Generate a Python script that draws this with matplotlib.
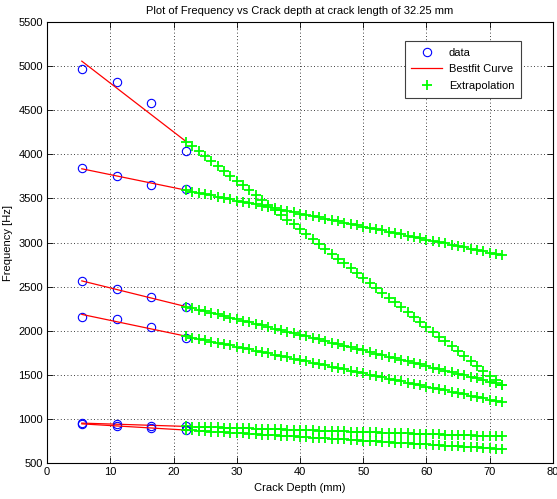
import numpy as np
import matplotlib
matplotlib.use("Agg")
import matplotlib.pyplot as plt

plt.rcParams["font.family"] = ["Liberation Sans Narrow", "Liberation Sans", "DejaVu Sans"]

# measured crack depths (mm)
depth = [5.5, 11.0, 16.5, 22.0]

mode1 = [4969, 4817, 4580, 4035]
mode2 = [3841, 3756, 3657, 3604]
mode3 = [2561, 2470, 2378, 2267]
mode4 = [2160, 2130, 2040, 1915]
mode5 = [950, 945, 925, 915]
mode6 = [940, 925, 900, 870]
modes = [mode1, mode2, mode3, mode4, mode5, mode6]

# extrapolation depths (mm), 1 mm steps out to 72 mm
depth_ext = list(range(22, 73))

fig = plt.figure(figsize=(5.57, 4.99), dpi=100)
ax = fig.add_axes([0.0844, 0.0721, 0.9084, 0.8838])

for i, f in enumerate(modes):
    # linear best fit through the measured points, then extrapolated
    coef = np.polyfit(depth, f, 1)
    ax.plot(depth, f, "o", mfc="none", mec="blue", ms=6, mew=0.8,
            label="data" if i == 0 else None)
    ax.plot(depth, np.polyval(coef, depth), "-", color="red", lw=0.9,
            label="Bestfit Curve" if i == 0 else None)
    ax.plot(depth_ext, np.polyval(coef, depth_ext), "+", color="#00ff00",
            ms=6.5, mew=1.3, label="Extrapolation" if i == 0 else None)

ax.set_xlim(0, 80)
ax.set_ylim(500, 5500)
ax.set_xticks(range(0, 81, 10))
ax.set_yticks(range(500, 5501, 500))
ax.grid(True, color="black", linestyle=(0, (1, 3)), linewidth=0.6)
ax.tick_params(direction="in", top=True, right=True, length=4,
               labelsize=8, width=0.6, pad=3)
for s in ax.spines.values():
    s.set_linewidth(0.8)

ax.set_title("Plot of Frequency vs Crack depth at crack length of 32.25 mm",
             fontsize=8, pad=6)
ax.set_xlabel("Crack Depth (mm)", fontsize=8, labelpad=4)
ax.set_ylabel("Frequency [Hz]", fontsize=8)
ax.yaxis.set_label_coords(-0.068, 0.5)

leg = ax.legend(loc="upper right", bbox_to_anchor=(0.937, 0.957),
                borderaxespad=0, fontsize=8, fancybox=False, framealpha=1,
                edgecolor="#404040", handlelength=2.8, borderpad=0.6,
                labelspacing=0.6, handletextpad=0.6)
leg.get_frame().set_linewidth(0.8)

fig.savefig("out.png", dpi=100)
